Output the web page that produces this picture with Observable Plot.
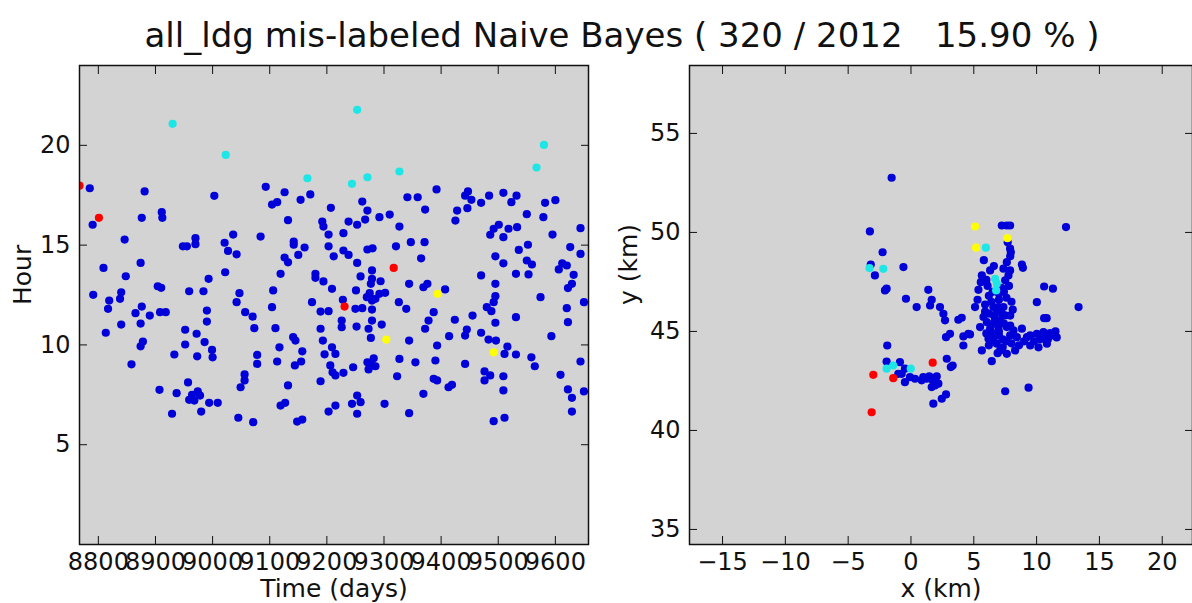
<!DOCTYPE html>
<html><head><meta charset="utf-8">
<script src="https://cdn.jsdelivr.net/npm/d3@7"></script>
<script src="https://cdn.jsdelivr.net/npm/@observablehq/plot@0.6"></script>
<style>
html,body{margin:0;padding:0;background:#fff;}
#wrap{position:relative;width:1192px;height:603px;overflow:hidden;font-family:"DejaVu Sans",sans-serif;}
#title{position:absolute;left:0;top:18px;width:1244px;text-align:center;font-size:34px;white-space:pre;color:#111;line-height:1;}
#left{position:absolute;left:0;top:50px;}
#right{position:absolute;left:600px;top:50px;}
</style></head><body>
<div id="wrap"><div id="title"></div><div id="left"></div><div id="right"></div></div>
<script>
const titleText = "all_ldg mis-labeled Naive Bayes ( 320 / 2012   15.90 % )";

// ---- Left panel: time (days) vs hour ----
const timeTicks = [8800, 8900, 9000, 9100, 9200, 9300, 9400, 9500, 9600];
const hourTicks = [5, 10, 15, 20];
const timeDomain = [8767, 9658];
const hourDomain = [0, 24];

const timeHourBlue = [
[8785,17.85],[8881,17.69],[8790,16.02],[8876,16.37],[8911,16.65],[8912,16.37],[8846,15.28],[8948,14.94],[8955,14.94],[8970,15.35],
[8970,15.05],[8874,14.11],[8809,13.86],[8848,13.44],[8904,12.94],[8910,12.86],[8959,12.69],[8984,12.69],[8791,12.51],[8840,12.64],
[8838,12.31],[8819,12.22],[8817,11.81],[8876,11.92],[8865,11.59],[8890,11.47],[8908,11.64],[8918,11.64],[8874,11.07],[8840,11.02],
[8813,10.61],[8952,10.76],[8972,10.56],[8952,10.02],[8986,10.14],[8878,10.17],[8874,9.93],[8933,9.52],[8973,9.43],[8858,9.03],
[8957,8.12],[8907,7.75],[8937,7.58],[8964,7.5],[8974,7.67],[8978,7.46],[8959,7.25],[8968,7.21],[8929,6.55],[8980,6.66],
[9093,17.92],[9126,17.65],[9003,17.47],[9104,17.03],[9113,17.15],[9154,17.27],[9171,17.54],[9207,16.87],[9132,16.25],[9192,16.18],
[9194,15.93],[9203,15.53],[9036,15.53],[9021,15.12],[9027,14.71],[9042,14.54],[9084,15.43],[9142,15.18],[9142,15.02],[9161,14.88],
[9203,14.94],[9126,14.38],[9132,14.14],[9150,14.51],[9212,14.44],[9022,13.64],[9119,13.56],[9180,13.56],[9180,13.36],[9194,13.18],
[9209,12.81],[8993,13.31],[9047,12.59],[9042,12.14],[9106,12.73],[9174,12.14],[9189,11.67],[9203,11.69],[8990,11.72],[8990,11.17],
[9057,11.64],[9070,11.42],[9104,11.89],[9073,10.84],[9110,10.84],[9189,10.81],[9193,10.22],[9209,9.88],[9206,8.97],[9210,8.63],
[9141,10.39],[9145,10.22],[9157,9.68],[9196,9.53],[9117,9.88],[9113,9.17],[9155,9.17],[9144,8.97],[8999,9.75],[9000,9.38],
[9078,9.5],[9078,9.05],[9056,8.52],[9056,8.22],[9049,7.88],[9132,7.97],[9189,8.18],[8994,7.1],[9009,7.1],[9119,6.96],
[9127,7.1],[9045,6.35],[9071,6.13],[9148,6.16],[9157,6.26],[9203,6.66],
[9392,17.79],[9341,17.4],[9359,17.4],[9262,17.18],[9372,16.78],[9428,16.73],[9425,16.23],[9271,16.73],[9267,16.28],[9253,16.02],
[9238,16.18],[9292,16.4],[9310,16.53],[9327,15.93],[9229,15.6],[9347,15.15],[9371,15.15],[9321,14.94],[9271,14.78],[9280,14.84],
[9229,14.73],[9238,14.51],[9253,14.11],[9365,14.34],[9279,13.73],[9259,13.43],[9279,13.31],[9277,13.06],[9294,13.19],[9344,13.06],
[9369,12.89],[9376,13.06],[9407,12.78],[9251,12.73],[9275,12.59],[9302,12.61],[9292,12.56],[9270,12.39],[9279,12.22],[9285,12.31],
[9228,12.26],[9250,11.81],[9262,11.84],[9279,11.77],[9326,12.14],[9339,11.81],[9387,11.64],[9378,11.22],[9372,10.81],[9424,11.26],
[9226,11.22],[9226,10.89],[9252,10.92],[9279,11.22],[9273,10.81],[9277,10.35],[9296,11.02],[9344,10.22],[9414,10.44],[9393,9.97],
[9215,9.55],[9229,8.6],[9215,8.47],[9246,8.88],[9271,9.13],[9282,9.33],[9279,8.97],[9273,8.77],[9285,8.93],[9327,9.3],
[9355,9.13],[9390,9.22],[9323,8.43],[9387,8.3],[9393,8.22],[9413,7.88],[9419,8.0],[9369,7.55],[9253,7.46],[9259,7.13],
[9244,7.05],[9253,6.55],[9215,6.96],[9301,7.05],[9344,6.58],
[9447,17.69],[9442,17.48],[9453,17.27],[9446,16.85],[9470,17.12],[9484,17.48],[9509,17.62],[9532,17.48],[9523,17.15],[9550,16.55],
[9582,17.12],[9600,17.25],[9579,16.4],[9644,15.85],[9595,15.53],[9501,16.02],[9492,15.82],[9486,15.52],[9509,15.4],[9518,15.82],
[9533,15.9],[9552,15.02],[9536,14.76],[9626,14.9],[9644,14.56],[9495,14.44],[9509,14.09],[9550,14.23],[9559,14.03],[9553,13.53],
[9531,13.56],[9612,14.09],[9620,13.98],[9606,13.78],[9632,13.51],[9629,13.06],[9622,12.85],[9470,13.48],[9495,13.06],[9495,12.44],
[9492,12.14],[9480,11.89],[9488,11.69],[9574,12.39],[9620,11.84],[9650,12.14],[9455,11.47],[9531,11.39],[9495,11.11],[9622,11.14],
[9445,10.77],[9442,10.47],[9470,10.61],[9483,10.27],[9496,10.22],[9593,10.44],[9516,9.92],[9511,9.55],[9531,9.52],[9558,9.38],
[9564,8.93],[9644,9.17],[9442,9.05],[9476,8.67],[9486,8.47],[9476,8.22],[9509,8.43],[9509,7.72],[9609,8.5],[9622,7.77],
[9629,7.35],[9629,6.66],[9650,7.67],[9492,6.18],[9511,6.35]
];
const timeHourCyan = [[8930,21.08],[9023,19.52],[9253,21.78],[9580,20.02],[9567,18.89],[9166,18.35],[9244,18.07],[9271,18.4],[9327,18.69]];
const timeHourYellow = [[9394,12.56],[9304,10.27],[9492,9.63]];
const timeHourRed = [[8767,17.98],[8801,16.37],[9317,13.86],[9231,11.92]];

// ---- Right panel: x (km) vs y (km) ----
const xTicks = [-15, -10, -5, 0, 5, 10, 15, 20];
const yTicks = [35, 40, 45, 50, 55];
const xDomain = [-17.63, 22.41];
const yDomain = [34.24, 58.43];

const xyBlue = [
[-1.54,52.76],[-3.27,50.05],[-2.26,49.0],[-3.2,48.38],[-2.87,47.83],[-2.07,47.07],[-1.94,47.16],[-0.6,48.25],
[-1.89,44.29],[-1.94,43.48],[-1.01,42.86],
[-0.88,43.45],[-0.48,43.12],[-0.74,42.86],[-0.48,42.44],[-0.08,42.69],[0.32,42.61],[0.85,42.53],[0.98,42.69],[1.25,42.61],
[1.46,42.73],[1.73,42.53],[2.05,42.73],[1.65,42.19],[1.91,42.27],[2.18,42.36],[1.78,41.35],[2.45,41.6],[2.79,41.82],[2.85,43.62],
[3.32,43.28],[3.17,43.2],[7.5,41.98],[9.36,42.16],
[7.23,50.35],[7.63,50.35],[7.89,50.35],[12.34,50.27],[7.89,49.18],[7.95,49.0],[7.63,48.5],[7.36,48.17],[7.89,48.08],[7.76,47.83],
[7.5,47.58],[6.3,48.08],[5.64,47.83],[5.56,47.49],[5.37,47.1],[8.83,48.38],[8.91,48.21],[1.38,47.1],[1.65,46.6],[2.31,46.23],
[2.58,45.89],[2.71,45.56],[3.77,45.59],[4.04,45.69],[-0.4,46.65],[0.45,46.23],[1.52,46.31],[5.1,46.23],[5.9,46.36],[6.56,46.23],
[6.96,46.23],[7.36,46.23],[6.83,45.98],[7.23,45.89],[7.5,45.81],[7.1,45.56],[6.56,45.39],[6.3,45.14],[6.96,45.22],[5.77,45.73],
[6.04,45.47],[5.5,45.22],[7.63,45.22],[8.16,45.05],[8.83,45.14],[9.49,44.8],[10.02,44.88],[10.55,44.97],[11.08,44.92],[4.57,44.88],
[4.17,44.75],[3.11,44.88],[2.79,44.71],[10.02,46.48],[10.6,47.27],[11.3,47.16],[10.6,45.67],[10.8,45.67],[13.34,46.23],
[4.7,44.85],[4.17,44.29],[5.64,44.04],[6.43,43.5],[6.17,44.63],[6.56,44.55],[6.83,44.38],[7.1,44.04],[7.63,43.87],[7.89,44.8],
[8.29,44.04],[8.43,44.71],[9.23,44.71],[10.55,44.71],[11.35,44.8],[9.49,44.29],[10.15,44.2],[10.82,44.38],
[6.2,46.8],[6.5,47.0],[6.1,47.3],[7.0,46.9],[7.4,47.0],[7.8,47.3],[7.2,47.2],[6.4,46.5],[7.0,46.6],[7.6,46.7],
[8.0,46.5],[6.2,45.9],[6.6,45.8],[7.9,45.8],[8.1,46.1],[6.0,44.9],[6.6,44.9],[7.0,44.8],[7.3,44.6],[7.6,44.5],
[7.0,45.0],[6.7,45.6],[7.4,45.4],[7.9,45.3],[6.2,44.3],[6.9,43.9],[7.3,44.2],[8.0,44.4],[9.8,44.5],[10.3,44.6],
[10.9,44.6],[9.0,44.5],[8.6,44.3],[11.6,44.7],[11.5,45.0],[5.9,46.0],[5.3,46.6],[5.8,48.6],[6.6,48.3],[6.0,47.6],
[7.9,48.8],[7.7,49.5]
];
const xyCyan = [[-3.3,48.2],[-2.2,48.16],[-1.94,43.12],[-1.41,43.28],[-0.02,43.12],[5.96,49.23],[6.7,47.66],[6.83,47.41],[6.78,47.07]];
const xyYellow = [[5.1,50.3],[7.68,49.71],[5.18,49.23]];
const xyRed = [[-3.0,42.81],[-1.41,42.64],[-3.13,40.92],[1.73,43.42]];

const COLORS = {blue: "#0000d8", cyan: "#1ee6e6", yellow: "#ffff00", red: "#ff0000"};
const FONT = "DejaVu Sans";

function panel({width, marginLeft, marginRight, xDom, yDom, xT, yT, series, xLabel, yLabel, yLabelDx}) {
  const dots = series.map(([pts, col]) =>
    Plot.dot(pts, {x: d => d[0], y: d => d[1], r: 4.1, fill: COLORS[col], stroke: "none", clip: true}));
  return Plot.plot({
    width, height: 553,
    marginLeft, marginRight, marginTop: 15, marginBottom: 59,
    x: {domain: xDom},
    y: {domain: yDom},
    style: {fontFamily: FONT, fontSize: "24px", color: "#111", background: "transparent", overflow: "visible"},
    marks: [
      Plot.frame({fill: "#d3d3d3", stroke: "none"}),
      ...dots,
      Plot.frame({stroke: "#111", strokeWidth: 1.5}),
      Plot.axisX(xT, {anchor: "bottom", tickSize: -8, tickPadding: 16, tickFormat: "d", label: null, fontSize: 24, stroke: "#111"}),
      Plot.axisX(xT, {anchor: "top", tickSize: -8, tickFormat: () => "", label: null, stroke: "#111"}),
      Plot.axisY(yT, {anchor: "left", tickSize: -8, tickPadding: 17, tickFormat: "d", label: null, fontSize: 24, stroke: "#111"}),
      Plot.axisY(yT, {anchor: "right", tickSize: -8, tickFormat: () => "", label: null, stroke: "#111"}),
      Plot.text([xLabel], {frameAnchor: "bottom", dy: 52, fontSize: 25, fill: "#111"}),
      Plot.text([yLabel], {frameAnchor: "left", dx: yLabelDx, rotate: -90, fontSize: 25, fill: "#111"})
    ]
  });
}

document.getElementById("title").textContent = titleText;

document.getElementById("left").appendChild(panel({
  width: 600, marginLeft: 79, marginRight: 12,
  xDom: timeDomain, yDom: hourDomain, xT: timeTicks, yT: hourTicks,
  series: [[timeHourBlue, "blue"], [timeHourCyan, "cyan"], [timeHourYellow, "yellow"], [timeHourRed, "red"]],
  xLabel: "Time (days)", yLabel: "Hour", yLabelDx: -57
}));

document.getElementById("right").appendChild(panel({
  width: 592, marginLeft: 89, marginRight: 0,
  xDom: xDomain, yDom: yDomain, xT: xTicks, yT: yTicks,
  series: [[xyBlue, "blue"], [xyCyan, "cyan"], [xyYellow, "yellow"], [xyRed, "red"]],
  xLabel: "x (km)", yLabel: "y (km)", yLabelDx: -61
}));
</script>
</body></html>
